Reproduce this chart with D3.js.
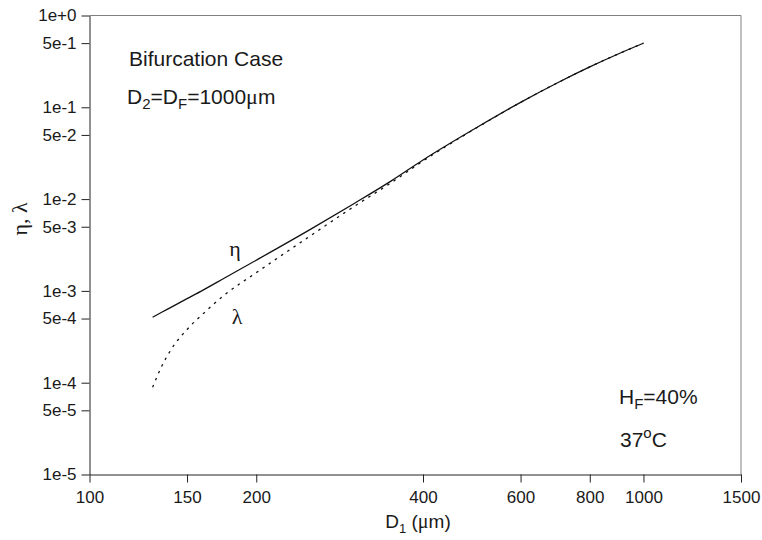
<!DOCTYPE html>
<html>
<head>
<meta charset="utf-8">
<script src="https://cdn.jsdelivr.net/npm/d3@7"></script>
<style>
  html, body { margin: 0; padding: 0; background: #fff; }
  svg { display: block; font-family: "Liberation Sans", Arial, Helvetica, sans-serif; fill: #1a1a1a; }
</style>
</head>
<body>
<svg id="chart" width="762" height="540"></svg>
<script>
// ---- data ----
const diameters = [130, 135, 140, 150, 160, 175, 200, 250, 300, 350, 400, 500, 600, 700, 800, 900, 1000];
const etaValues = [5.17e-4, 5.85e-4, 6.58e-4, 8.24e-4, 1.015e-3, 1.375e-3, 2.16e-3, 4.65e-3, 8.91e-3, 0.0157, 0.0267, 0.0603, 0.1133, 0.1853, 0.2755, 0.381, 0.499];
const lambdaValues = [8.93e-5, 1.51e-4, 2.24e-4, 3.80e-4, 5.56e-4, 8.98e-4, 1.58e-3, 3.95e-3, 8.27e-3, 0.0150, 0.0260, 0.0598, 0.1130, 0.1853, 0.2755, 0.381, 0.499];
const xTickValues = [100, 150, 200, 400, 600, 800, 1000, 1500];
const yTickValues = [1, 0.5, 0.1, 0.05, 0.01, 0.005, 0.001, 0.0005, 0.0001, 0.00005, 0.00001];
const yTickLabels = ["1e+0", "5e-1", "1e-1", "5e-2", "1e-2", "5e-3", "1e-3", "5e-4", "1e-4", "5e-5", "1e-5"];

// ---- layout ----
const plotL = 89.5, plotR = 741, plotT = 15.5, plotB = 474.5;
const serif = "Liberation Serif, Times New Roman, serif";

const svg = d3.select("#chart");

const x = d3.scaleLog().domain([100, 1500]).range([plotL, plotR]);
const y = d3.scaleLog().domain([1e-5, 1]).range([plotB, plotT]);

// frame (top & right, gray)
svg.append("path")
  .attr("d", `M${plotL},${plotT}H${plotR}V${plotB}`)
  .attr("fill", "none").attr("stroke", "#808080").attr("stroke-width", 1);

// axes
const xAxis = d3.axisBottom(x).tickValues(xTickValues).tickFormat(d3.format("d"))
  .tickSizeInner(8).tickSizeOuter(0).tickPadding(8);
const yAxis = d3.axisLeft(y).tickValues(yTickValues).tickFormat((d, i) => yTickLabels[i])
  .tickSizeInner(8).tickSizeOuter(0).tickPadding(5);

const gx = svg.append("g").attr("transform", `translate(0,${plotB})`).call(xAxis);
const gy = svg.append("g").attr("transform", `translate(${plotL},0)`).call(yAxis);
[gx, gy].forEach(g => {
  g.select(".domain").attr("stroke", "#222");
  g.selectAll(".tick line").attr("stroke", "#222");
  g.selectAll(".tick text").attr("font-size", 17).attr("fill", "#1a1a1a")
    .attr("font-family", "Liberation Sans, Arial, sans-serif");
});

// lines
const etaData = diameters.map((d, i) => [d, etaValues[i]]);
const lambdaData = diameters.map((d, i) => [d, lambdaValues[i]]);
const line = d3.line().x(d => x(d[0])).y(d => y(d[1])).curve(d3.curveMonotoneX);

svg.append("path").datum(lambdaData)
  .attr("d", line).attr("fill", "none").attr("stroke", "#111")
  .attr("stroke-width", 1.3).attr("stroke-dasharray", "2.5,5");
svg.append("path").datum(etaData)
  .attr("d", line).attr("fill", "none").attr("stroke", "#111")
  .attr("stroke-width", 1.3);

// annotations
const ann = svg.append("g").attr("font-size", 21).attr("fill", "#1a1a1a");
ann.append("text").attr("x", 129).attr("y", 66).text("Bifurcation Case");

const t2 = ann.append("text").attr("x", 127).attr("y", 104);
t2.append("tspan").text("D");
t2.append("tspan").attr("font-size", 15).attr("dy", 5).text("2");
t2.append("tspan").attr("dy", -5).text("=D");
t2.append("tspan").attr("font-size", 15).attr("dy", 5).text("F");
t2.append("tspan").attr("dy", -5).text("=1000");
t2.append("tspan").attr("font-family", serif).attr("font-size", 22).text("μ");
t2.append("tspan").text("m");

const t3 = ann.append("text").attr("x", 619).attr("y", 404);
t3.append("tspan").text("H");
t3.append("tspan").attr("font-size", 15).attr("dy", 5).text("F");
t3.append("tspan").attr("dy", -5).text("=40%");

const t4 = ann.append("text").attr("x", 620).attr("y", 447);
t4.append("tspan").text("37");
t4.append("tspan").attr("font-size", 15).attr("dy", -9).text("o");
t4.append("tspan").attr("dy", 9).text("C");

// curve labels
svg.append("text").attr("x", 235).attr("y", 256).attr("text-anchor", "middle")
  .attr("font-family", serif).attr("font-size", 22).attr("fill", "#1a1a1a").text("η");
svg.append("text").attr("x", 237).attr("y", 324).attr("text-anchor", "middle")
  .attr("font-family", serif).attr("font-size", 22).attr("fill", "#1a1a1a").text("λ");

// axis titles
const xt = svg.append("text").attr("x", 418).attr("y", 528).attr("text-anchor", "middle")
  .attr("font-size", 19).attr("fill", "#1a1a1a");
xt.append("tspan").text("D");
xt.append("tspan").attr("font-size", 13).attr("dy", 5).text("1");
xt.append("tspan").attr("dy", -5).text(" (");
xt.append("tspan").attr("font-family", serif).attr("font-size", 20).text("μ");
xt.append("tspan").text("m)");

svg.append("text")
  .attr("transform", "translate(27,219) rotate(-90)")
  .attr("text-anchor", "middle")
  .attr("font-family", serif).attr("font-size", 22).attr("fill", "#1a1a1a")
  .text("η, λ");
</script>
</body>
</html>
